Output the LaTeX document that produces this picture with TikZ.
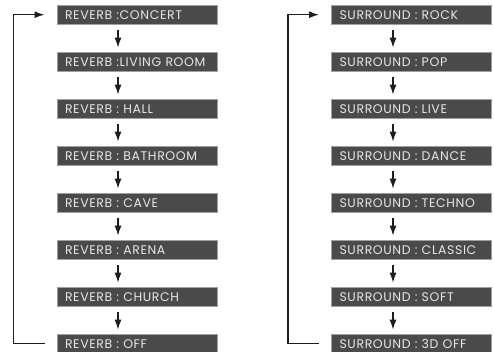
\documentclass[tikz,border=0pt]{standalone}
\usepackage{fontspec}
\setmainfont{Poppins}[LetterSpace=5]
\usetikzlibrary{arrows.meta,calc}
\definecolor{boxfill}{HTML}{4A4A4A}
\definecolor{boxline}{HTML}{A0A0A0}
\definecolor{boxtext}{HTML}{E6E6E6}
\definecolor{linec}{HTML}{1E1E1E}
\tikzset{
  mbox/.style={draw=boxline, fill=boxfill, line width=1pt, minimum width=160pt, minimum height=19pt,
    inner sep=0pt, text=boxtext, font=\fontsize{12.5}{13}\selectfont, text width=144pt, align=left},
  flow/.style={draw=linec, line width=1.3pt, -{Latex[length=10pt,width=7pt]}},
  loop/.style={draw=linec, line width=1.3pt},
}
\begin{document}
\begin{tikzpicture}[x=1pt,y=-1pt]
\useasboundingbox (0,0) rectangle (494,352);
\foreach \t [count=\i] in {REVERB :CONCERT,REVERB :LIVING ROOM,REVERB : HALL,REVERB : BATHROOM,REVERB : CAVE,REVERB : ARENA,REVERB : CHURCH,REVERB : OFF}{
  \node[mbox] (l\i) at (137,{14.7+47*(\i-1)}) {\t};
}
\foreach \t [count=\i] in {SURROUND : ROCK,SURROUND : POP,SURROUND : LIVE,SURROUND : DANCE,SURROUND : TECHNO,SURROUND : CLASSIC,SURROUND : SOFT,SURROUND : 3D OFF}{
  \node[mbox] (r\i) at (411.5,{14.7+47*(\i-1)}) {\t};
}
\foreach \i [evaluate=\i as \j using int(\i+1)] in {1,...,7}{
  \draw[flow] ($(l\i.south)+(-19,5)$) -- ($(l\j.north)+(-19,-4)$);
  \draw[flow] ($(r\i.south)+(-18.5,5)$) -- ($(r\j.north)+(-18.5,-4)$);
}
\draw[loop] ($(l8.west)+(-12,0)$) -- ($(l8.west)+(-43,0)$) coordinate (lc);
\draw[flow] (lc) |- ($(l1.west)+(-12,0)$);
\draw[loop] ($(r8.west)+(-12,0)$) -- ($(r8.west)+(-43,0)$) coordinate (rc);
\draw[flow] (rc) |- ($(r1.west)+(-12,0)$);
\end{tikzpicture}
\end{document}
